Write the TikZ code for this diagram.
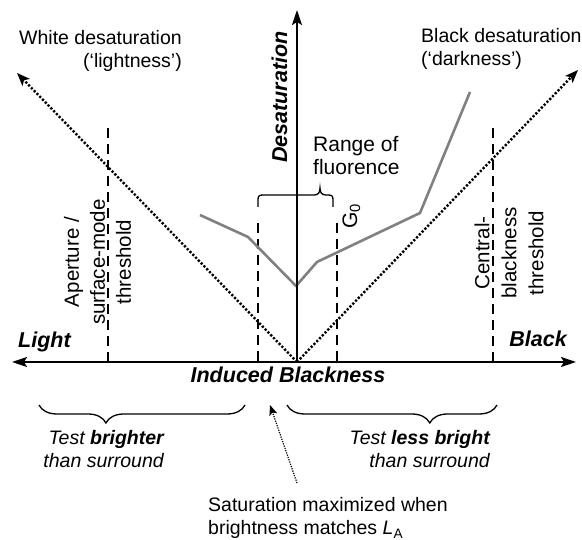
\documentclass[tikz,border=0pt]{standalone}
\usepackage{fontspec}
\setmainfont{Liberation Sans}
\usetikzlibrary{arrows.meta,decorations.pathreplacing}
\begin{document}
\begin{tikzpicture}[x=1pt,y=1pt,
  axisline/.style={line width=2pt},
  bigtip/.style={-{Stealth[length=15pt,width=10pt,inset=3pt]}},
  diag/.style={line width=2.4pt, dash pattern=on 2.2pt off 1.8pt, -{Stealth[length=13pt,width=10pt,inset=3pt]}},
  thr/.style={line width=1.6pt, dash pattern=on 10pt off 6pt},
  grey curve/.style={line width=2.6pt, black!50, line join=round},
  bracestyle/.style={line width=1.3pt},
  lbl/.style={font=\fontsize{19.5}{23}\selectfont, inner sep=0pt},
  ilbl/.style={font=\fontsize{19.5}{23}\selectfont\itshape, inner sep=0pt},
  blbl/.style={font=\fontsize{21.5}{25}\selectfont\bfseries\itshape, inner sep=0pt},
  rlbl/.style={font=\fontsize{20.5}{27}\selectfont, inner sep=0pt, rotate=90, align=center},
  hint/.style={line width=1.2pt, dash pattern=on 1.2pt off 1.2pt, -{Stealth[length=10pt,width=8pt,inset=2pt]}}
]
\useasboundingbox (0,0) rectangle (582,540);

% key points
\coordinate (O) at (297,178);
\coordinate (L) at (12,178);
\coordinate (R) at (576,178);
\coordinate (T) at (297,530);
\coordinate (WD) at (17,467);
\coordinate (BD) at (578,470);

% diagonal dotted arrows
\draw[diag] (O) -- (WD);
\draw[diag] (O) -- (BD);

% threshold dashed lines
\coordinate (ap) at (108,412);
\coordinate (fl) at (258,317);
\coordinate (g0) at (337,317);
\coordinate (cb) at (493,412);
\draw[thr] (ap) -- (ap |- O);
\draw[thr] (fl) -- (fl |- O);
\draw[thr] (g0) -- (g0 |- O);
\draw[thr] (cb) -- (cb |- O);

% grey curve
\coordinate (c1) at (200,325);
\coordinate (c2) at (248,303);
\coordinate (c3) at (296,254);
\coordinate (c4) at (317,278);
\coordinate (c5) at (420,327);
\coordinate (c6) at (470,448);
\draw[grey curve] (c1) -- (c2) -- (c3) -- (c4) -- (c5) -- (c6);

% axes
\draw[axisline, bigtip] (O) -- (T);
\draw[axisline, {Stealth[length=15pt,width=10pt,inset=3pt]}-{Stealth[length=15pt,width=10pt,inset=3pt]}] (L) -- (R);

% range of fluorence brace
\draw[bracestyle] (258,333) -- (258,340) .. controls (258,344) and (259,345) .. (263,345) -- (314,345)
  .. controls (318,345) and (320,347) .. (320,352)
  .. controls (320,347) and (322,345) .. (326,345) -- (328,345)
  .. controls (332,345) and (333,344) .. (333,340) -- (333,333);

% bottom braces
\draw[bracestyle, decorate, decoration={brace, amplitude=18pt, aspect=0.675}] (245,135) -- (39,135);
\draw[bracestyle, decorate, decoration={brace, amplitude=18pt, aspect=0.32}] (497,135) -- (287,135);

% labels (base anchor of a multi-line node = baseline of its last line)
\node[lbl, align=right, anchor=base east] (wdl) at (182,472) {White desaturation\\(`lightness')};
\node[lbl, align=left, anchor=base west] (bdl) at (421,474) {Black desaturation\\(`darkness')};
\node[blbl, rotate=90, anchor=base] (desat) at (287,443) {Desaturation};
\node[font=\fontsize{21}{23.5}\selectfont, inner sep=0pt, align=left, anchor=base west] (range) at (313,365) {Range of\\fluorence};
\node[font=\fontsize{21}{25}\selectfont, inner sep=0pt, rotate=90, anchor=base] (g0l) at (357,324) {G\textsubscript{0}};
\node[rlbl, font=\fontsize{20.5}{26}\selectfont] (apl) at (97.5,278) {Aperture /\\surface-mode\\threshold};
\node[rlbl, font=\fontsize{20.5}{27}\selectfont] (cbl) at (509,287) {Central-\\blackness\\threshold};
\node[blbl, anchor=base west] (light) at (18,192) {Light};
\node[blbl, anchor=base east] (black) at (567,193) {Black};
\node[blbl, anchor=base] (ib) at (288,157) {Induced Blackness};
\node[ilbl, align=right, anchor=base east] (tb) at (164,72) {Test \textbf{brighter}\\than surround};
\node[ilbl, align=right, anchor=base east] (tl) at (490,72) {Test \textbf{less bright}\\than surround};
\node[lbl, align=left, anchor=base west] (sat) at (208,5) {Saturation maximized when\\brightness matches \textit{L}\textsubscript{A}};

% pointer to the origin
\coordinate (sp) at (297,57);
\coordinate (se) at (270,135);
\draw[hint] (sp) -- (se);
\end{tikzpicture}
\end{document}
